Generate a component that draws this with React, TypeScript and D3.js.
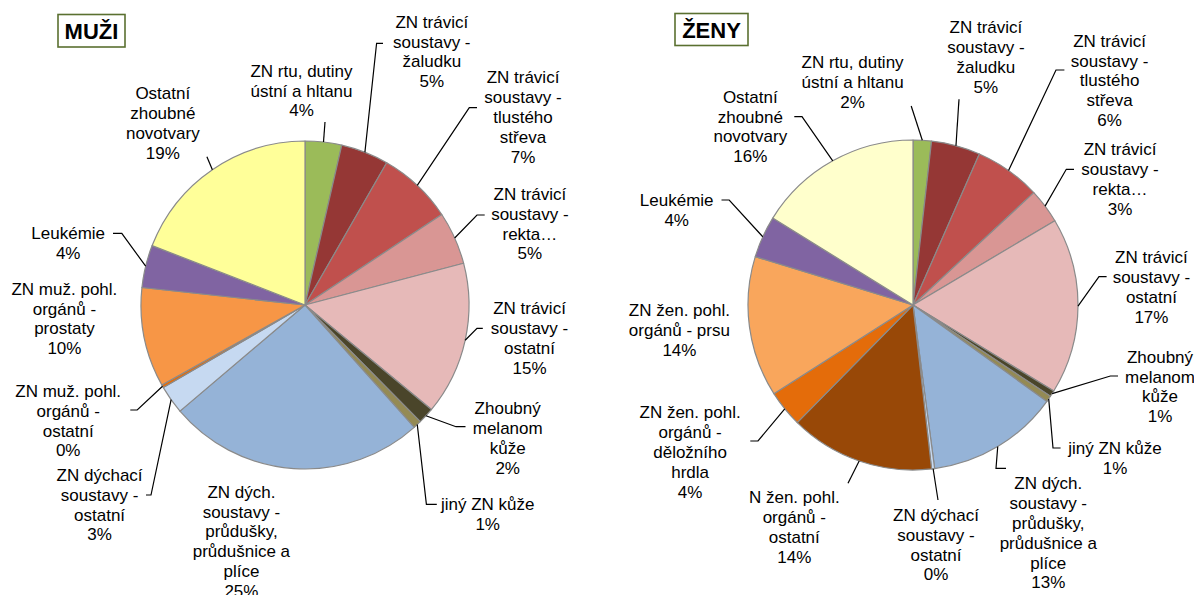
import React from "react";
import * as d3 from "d3";

// ---------- DATA ----------
const menCategories = [
  "ZN rtu, dutiny\nústní a hltanu",
  "ZN trávicí\nsoustavy -\nžaludku",
  "ZN trávicí\nsoustavy -\ntlustého\nstřeva",
  "ZN trávicí\nsoustavy -\nrekta…",
  "ZN trávicí\nsoustavy -\nostatní",
  "Zhoubný\nmelanom\nkůže",
  "jiný ZN kůže",
  "ZN dých.\nsoustavy -\nprůdušky,\nprůdušnice a\nplíce",
  "ZN dýchací\nsoustavy -\nostatní",
  "ZN muž. pohl.\norgánů -\nostatní",
  "ZN muž. pohl.\norgánů -\nprostaty",
  "Leukémie",
  "Ostatní\nzhoubné\nnovotvary",
];
const menValues = [3.6, 4.7, 7.4, 5.2, 15.1, 1.6, 0.8, 25.4, 2.8, 0.3, 9.8, 4.2, 19.1];
const menPercentLabels = ["4%", "5%", "7%", "5%", "15%", "2%", "1%", "25%", "3%", "0%", "10%", "4%", "19%"];
const menColors = [
  "#9BBB59", "#953735", "#C0504D", "#D99694", "#E6B9B8", "#4A452A", "#948A54",
  "#95B3D7", "#C6D9F1", "#E46C0A", "#F79646", "#8064A2", "#FFFF99",
];

const womenCategories = [
  "ZN rtu, dutiny\nústní a hltanu",
  "ZN trávicí\nsoustavy -\nžaludku",
  "ZN trávicí\nsoustavy -\ntlustého\nstřeva",
  "ZN trávicí\nsoustavy -\nrekta…",
  "ZN trávicí\nsoustavy -\nostatní",
  "Zhoubný\nmelanom\nkůže",
  "jiný ZN kůže",
  "ZN dých.\nsoustavy -\nprůdušky,\nprůdušnice a\nplíce",
  "ZN dýchací\nsoustavy -\nostatní",
  "N žen. pohl.\norgánů -\nostatní",
  "ZN žen. pohl.\norgánů -\nděložního\nhrdla",
  "ZN žen. pohl.\norgánů - prsu",
  "Leukémie",
  "Ostatní\nzhoubné\nnovotvary",
];
const womenValues = [1.8, 4.8, 6.5, 3.4, 17.3, 0.6, 0.6, 13.0, 0.3, 14.2, 3.6, 13.8, 4.1, 16.2];
const womenPercentLabels = ["2%", "5%", "6%", "3%", "17%", "1%", "1%", "13%", "0%", "14%", "4%", "14%", "4%", "16%"];
const womenColors = [
  "#9BBB59", "#953735", "#C0504D", "#D99694", "#E6B9B8", "#4A452A", "#948A54",
  "#95B3D7", "#C6D9F1", "#984807", "#E46C0A", "#F9A65C", "#8064A2", "#FFFFCC",
];

// ---------- LAYOUT (label anchors & leader elbows, not data) ----------
type LabelPos = { x: number; y: number; leader: [number, number][] | null };
const menLabelPos: LabelPos[] = [
  { x: 301.5, y: 70.7, leader: [[325, 122]] },
  { x: 431.8, y: 21.7, leader: [[383, 43.3], [376.6, 43.3]] },
  { x: 523, y: 77.3, leader: [[477, 107.7], [469.3, 107.7]] },
  { x: 529.9, y: 194, leader: [[484.7, 215], [477, 215]] },
  { x: 529.5, y: 308.3, leader: [[482.8, 328.3], [477, 328.3]] },
  { x: 507.7, y: 408.3, leader: [[465.5, 426.7], [456, 426.7]] },
  { x: 487.7, y: 504.3, leader: [[436.8, 504.3], [426.4, 504.3]] },
  { x: 241.4, y: 491.7, leader: null },
  { x: 99.6, y: 475, leader: [[146, 495], [151, 495]] },
  { x: 68.2, y: 391, leader: [[130.3, 410], [137.2, 410]] },
  { x: 64.4, y: 288.7, leader: null },
  { x: 68.2, y: 233.3, leader: [[113, 233.3], [121.8, 233.3]] },
  { x: 162.8, y: 93.3, leader: [[206.9, 156.7]] },
];
const womenLabelPos: LabelPos[] = [
  { x: 852.6, y: 62.3, leader: [[911.2, 106]] },
  { x: 985.9, y: 27.3, leader: [[959, 99.3]] },
  { x: 1109.6, y: 40.7, leader: [[1064.4, 70], [1056, 70]] },
  { x: 1120, y: 149.3, leader: [[1074, 169.3], [1066.3, 169.3]] },
  { x: 1151.4, y: 257.3, leader: [[1106.6, 276.7], [1099, 276.7]] },
  { x: 1160, y: 356.7, leader: [[1118, 376], [1110.4, 376]] },
  { x: 1115, y: 447.7, leader: [[1060.6, 448], [1053, 448]] },
  { x: 1048.3, y: 483.3, leader: [[1006, 468.3], [996, 468.3]] },
  { x: 936, y: 515, leader: [[938, 500]] },
  { x: 794.3, y: 497.3, leader: [[848, 483.3]] },
  { x: 690.1, y: 412.3, leader: [[750.3, 441], [758, 441]] },
  { x: 679.4, y: 310, leader: null },
  { x: 676.7, y: 200, leader: [[721.5, 200], [729.2, 200]] },
  { x: 750.3, y: 96.7, leader: [[794.3, 116.7], [802, 116.7]] },
];

const FONT = "'Liberation Sans', Arial, 'DejaVu Sans', sans-serif";
const FS = 17;
const LH = 19.8;

type PieProps = {
  cx: number;
  cy: number;
  r: number;
  categories: string[];
  values: number[];
  pcts: string[];
  colors: string[];
  pos: LabelPos[];
};

function Pie({ cx, cy, r, categories, values, pcts, colors, pos }: PieProps) {
  const pie = d3.pie<number>().sort(null).value((d) => d);
  const arcs = pie(values);
  const arc = d3.arc<d3.PieArcDatum<number>>().innerRadius(0).outerRadius(r);
  return (
    <g>
      <g transform={`translate(${cx},${cy})`}>
        {arcs.map((a, i) => (
          <path key={i} d={arc(a) || ""} fill={colors[i]} stroke="#8a8a8a" strokeWidth={1.2} strokeLinejoin="round" />
        ))}
      </g>
      {arcs.map((a, i) => {
        const p = pos[i];
        if (!p || !p.leader) return null;
        const mid = (a.startAngle + a.endAngle) / 2;
        const ex = cx + r * Math.sin(mid);
        const ey = cy - r * Math.cos(mid);
        const pts: [number, number][] = [...p.leader, [ex, ey]];
        const line = d3.line()(pts) || "";
        return <path key={"l" + i} d={line} fill="none" stroke="#000" strokeWidth={1.2} />;
      })}
      {categories.map((c, i) => {
        const p = pos[i];
        const lines = [...c.split("\n"), pcts[i]];
        return (
          <text key={"t" + i} fontFamily={FONT} fontSize={FS} fill="#000" textAnchor="middle">
            {lines.map((ln, j) => (
              <tspan key={j} x={p.x} y={p.y + 6 + j * LH}>
                {ln}
              </tspan>
            ))}
          </text>
        );
      })}
    </g>
  );
}

function TitleBox({ x, y, w, h, text }: { x: number; y: number; w: number; h: number; text: string }) {
  return (
    <g>
      <rect x={x} y={y} width={w} height={h} fill="#fff" stroke="#5A7030" strokeWidth={1.6} />
      <text x={x + w / 2} y={y + h / 2 + 8} textAnchor="middle" fontFamily={FONT} fontWeight="bold" fontSize={22}>
        {text}
      </text>
    </g>
  );
}

export default function App() {
  return (
    <svg
      width={1194}
      height={595}
      style={{ position: "absolute", left: 0, top: 0, background: "#fff" }}
    >
      <rect x={0} y={0} width={1194} height={595} fill="#fff" />
      <Pie
        cx={305}
        cy={305}
        r={164}
        categories={menCategories}
        values={menValues}
        pcts={menPercentLabels}
        colors={menColors}
        pos={menLabelPos}
      />
      <Pie
        cx={913}
        cy={305}
        r={165}
        categories={womenCategories}
        values={womenValues}
        pcts={womenPercentLabels}
        colors={womenColors}
        pos={womenLabelPos}
      />
      <TitleBox x={58} y={14.5} w={67} h={32.5} text="MUŽI" />
      <TitleBox x={675} y={13.5} w={73} h={32} text="ŽENY" />
    </svg>
  );
}
